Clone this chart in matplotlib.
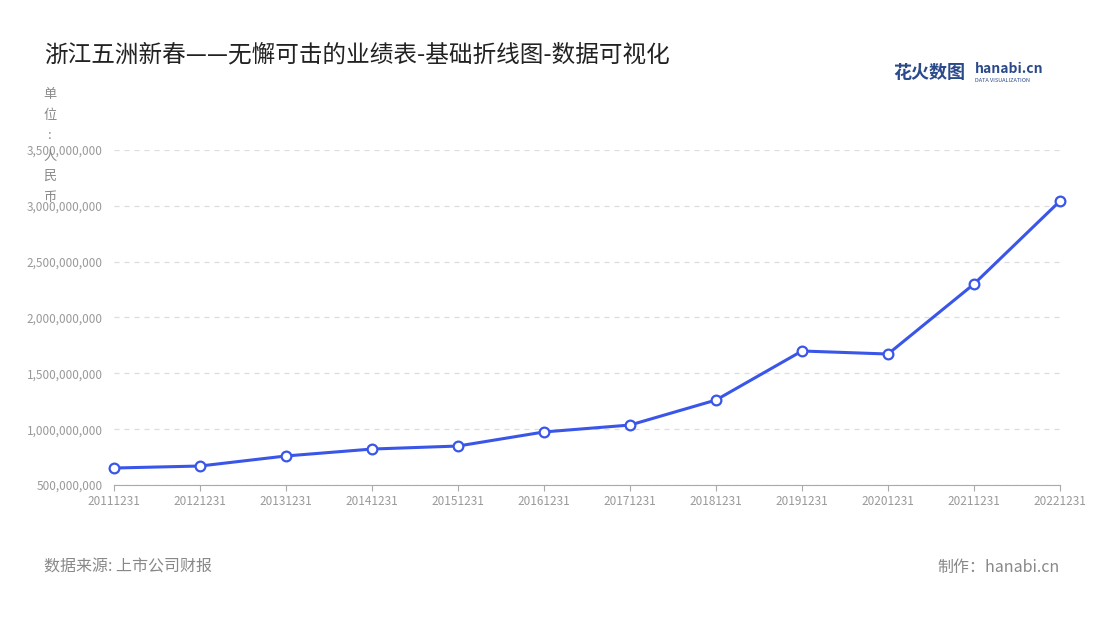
import matplotlib
matplotlib.use("Agg")
import matplotlib.pyplot as plt
from matplotlib.ticker import FuncFormatter

plt.rcParams["font.family"] = ["Noto Sans CJK SC"]

years = ["20111231","20121231","20131231","20141231","20151231","20161231",
         "20171231","20181231","20191231","20201231","20211231","20221231"]
revenue = [652e6, 670e6, 760e6, 822e6, 849e6, 975e6,
           1037e6, 1261e6, 1700e6, 1673e6, 2300e6, 3043e6]
yticks = [500e6, 1000e6, 1500e6, 2000e6, 2500e6, 3000e6, 3500e6]

W, H = 1100, 620
fig = plt.figure(figsize=(W/100, H/100), dpi=100)
ax = fig.add_axes([114/W, 1-485/H, (1060-114)/W, (485-150)/H])
x = list(range(len(years)))
ax.plot(x, revenue, color="#3a56e8", lw=2.2, marker="o", ms=7,
        mfc="white", mec="#3a56e8", mew=1.6, zorder=3, clip_on=False)
ax.set_xlim(0, len(years)-1)
ax.set_ylim(500e6, 3500e6)
ax.set_yticks(yticks)
ax.yaxis.set_major_formatter(FuncFormatter(lambda v, p: f"{int(v):,}"))
ax.set_xticks(x)
ax.set_xticklabels(years)
ax.tick_params(axis="both", labelsize=8.5, colors="#999999", length=4)
ax.tick_params(axis="y", length=0, pad=8)
ax.grid(axis="y", ls=(0, (4, 4)), color="#dddddd", lw=0.9)
for s in ["top", "right", "left"]:
    ax.spines[s].set_visible(False)
ax.spines["bottom"].set_color("#aaaaaa")
ax.tick_params(axis="x", color="#aaaaaa")

fig.text(44/W, 1-55/H, "浙江五洲新春——无懈可击的业绩表-基础折线图-数据可视化",
         fontsize=17, color="#222222", va="center")
fig.text(50/W, 1-88/H, "单\n位\n:\n人\n民\n币", fontsize=9.5, color="#888888",
         va="top", ha="center", linespacing=1.75)
fig.text(44/W, 1-567/H, "数据来源: 上市公司财报", fontsize=11.5, color="#888888", va="center")
fig.text(1060/W, 1-567/H, "制作：hanabi.cn", fontsize=11.5, color="#888888", va="center", ha="right")
fig.text(893/W, 1-72/H, "花火数图", fontsize=13, color="#2b4a8a", va="center", fontweight="bold")
fig.text(975/W, 1-69/H, "hanabi.cn", fontsize=10, color="#2b4a8a", va="center", fontweight="bold")
fig.text(975/W, 1-80/H, "DATA VISUALIZATION", fontsize=4, color="#2b4a8a", va="center")

fig.savefig("out.png", dpi=100)
